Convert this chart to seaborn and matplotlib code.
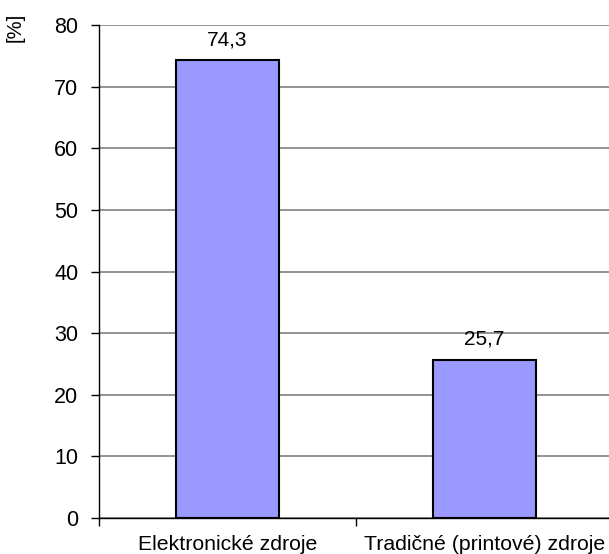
import matplotlib
matplotlib.use("Agg")
import matplotlib.pyplot as plt
import seaborn as sns
import pandas as pd

categories = ["Elektronické zdroje", "Tradičné (printové) zdroje"]
values = [74.3, 25.7]
value_labels = ["74,3", "25,7"]

sns.set_theme(style="white")
plt.rcParams["font.family"] = ["Liberation Sans", "DejaVu Sans"]

df = pd.DataFrame({"zdroj": categories, "podiel": values})

fig = plt.figure(figsize=(6.09, 5.54), dpi=100)
ax = fig.add_axes([99 / 609, 36 / 554, 514 / 609, 493 / 554])

sns.barplot(data=df, x="zdroj", y="podiel", color="#9999FF", width=0.4,
            edgecolor="black", linewidth=1.5, saturation=1, ax=ax, zorder=3)

ax.set_ylim(0, 80)
ax.set_xlim(-0.5, 1.5)
ax.set_yticks(range(0, 81, 10))
ax.yaxis.grid(True, color="#808080", linewidth=1.2, zorder=0)
ax.set_axisbelow(True)

for s in ["top", "right"]:
    ax.spines[s].set_visible(False)
for s in ["left", "bottom"]:
    ax.spines[s].set_color("black")
    ax.spines[s].set_linewidth(1.0)

ax.tick_params(axis="y", which="major", left=True, length=6, width=1,
               color="black", labelsize=15.5, pad=9, labelcolor="black")
ax.tick_params(axis="x", which="major", bottom=False, labelsize=15.3,
               pad=6, labelcolor="black")
ax.set_xticks([-0.5, 0.5, 1.5], minor=True)
ax.tick_params(axis="x", which="minor", bottom=True, length=6, width=1,
               color="black")

ax.set_xlabel("")
ax.set_ylabel("")
fig.text(15 / 609, 1 - 27 / 554, "[%]", rotation=90, ha="center", va="center",
         fontsize=14.5, color="black")

for i, (v, lab) in enumerate(zip(values, value_labels)):
    ax.text(i, v + 2.4, lab, ha="center", va="baseline", fontsize=15,
            color="black")

fig.savefig("out.png", dpi=100)
